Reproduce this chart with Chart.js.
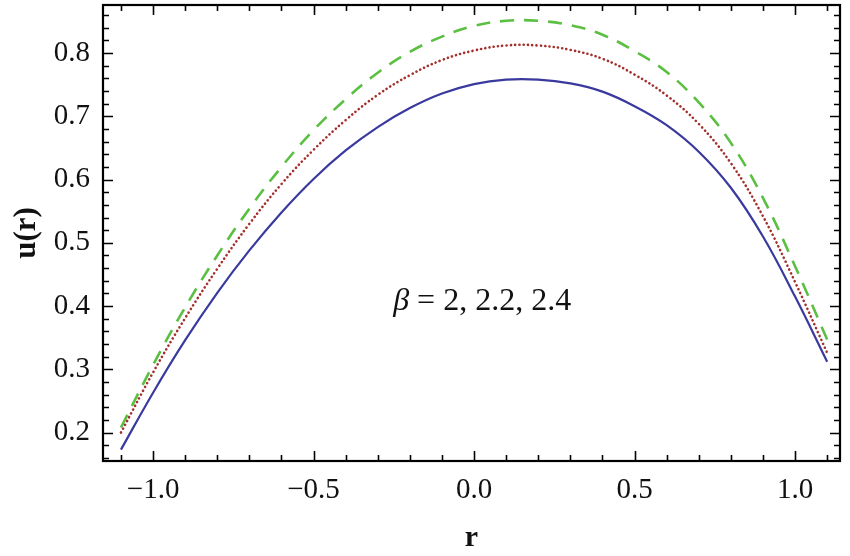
<!DOCTYPE html>
<html>
<head>
<meta charset="utf-8">
<script src="https://cdn.jsdelivr.net/npm/chart.js@4.4.0/dist/chart.umd.min.js"></script>
<style>
  html, body { margin: 0; padding: 0; background: #fff; }
</style>
</head>
<body>
<canvas id="lineChart" width="850" height="556"></canvas>
<script>
// r values along the pipe
const rValues = [-1.1, -1.0, -0.9, -0.8, -0.7, -0.6, -0.5, -0.4, -0.3, -0.2, -0.1,
  0.0, 0.1, 0.2, 0.3, 0.4, 0.5, 0.6, 0.7, 0.8, 0.9, 1.0, 1.1];

// u(r) for beta = 2, 2.2, 2.4
const uBeta20 = [0.173, 0.263, 0.346, 0.421, 0.488, 0.548, 0.601, 0.646, 0.683, 0.713, 0.736,
  0.751, 0.758, 0.758, 0.752, 0.739, 0.716, 0.686, 0.644, 0.587, 0.510, 0.415, 0.312];
const uBeta22 = [0.200, 0.295, 0.381, 0.459, 0.530, 0.593, 0.647, 0.694, 0.734, 0.765, 0.789,
  0.804, 0.812, 0.812, 0.805, 0.791, 0.766, 0.733, 0.688, 0.626, 0.542, 0.438, 0.326];
const uBeta24 = [0.208, 0.307, 0.398, 0.480, 0.554, 0.620, 0.678, 0.727, 0.769, 0.802, 0.826,
  0.843, 0.851, 0.851, 0.844, 0.829, 0.803, 0.770, 0.722, 0.658, 0.571, 0.463, 0.347];

const xTicks = [-1.0, -0.5, 0.0, 0.5, 1.0];
const xTickLabels = ["\u22121.0", "\u22120.5", "0.0", "0.5", "1.0"];
const yTicks = [0.2, 0.3, 0.4, 0.5, 0.6, 0.7, 0.8];
const yTickLabels = ["0.2", "0.3", "0.4", "0.5", "0.6", "0.7", "0.8"];
const noteText = "\u03B2";
const noteRest = " = 2, 2.2, 2.4";

const serif = "'Liberation Serif', 'Times New Roman', serif";

// minor tick positions (every 0.1 on x, 0.02 on y)
const xMinor = [];
for (let i = -11; i <= 11; i++) xMinor.push(i / 10);
const yMinor = [];
for (let i = 8; i <= 43; i++) yMinor.push(i / 50);

const toPoints = (ys) => rValues.map((r, i) => ({ x: r, y: ys[i] }));

// Mathematica style frame with inward ticks on all four sides
const frameTicks = {
  id: "frameTicks",
  afterDraw(chart) {
    const { ctx, chartArea: a, scales } = chart;
    const x = scales.x, y = scales.y;
    ctx.save();
    ctx.strokeStyle = "#000";
    ctx.lineWidth = 1.6;
    ctx.beginPath();
    xMinor.forEach((v) => {
      const px = Math.round(x.getPixelForValue(v)) + 0.5;
      const major = Math.abs(v * 2 - Math.round(v * 2)) < 1e-9;
      const len = major ? 10 : 6;
      ctx.moveTo(px, a.bottom);
      ctx.lineTo(px, a.bottom - len);
      ctx.moveTo(px, a.top);
      ctx.lineTo(px, a.top + len);
    });
    yMinor.forEach((v) => {
      const py = Math.round(y.getPixelForValue(v)) + 0.5;
      const major = Math.abs(v * 10 - Math.round(v * 10)) < 1e-9;
      const len = major ? 10 : 6;
      ctx.moveTo(a.left, py);
      ctx.lineTo(a.left + len, py);
      ctx.moveTo(a.right, py);
      ctx.lineTo(a.right - len, py);
    });
    ctx.stroke();
    ctx.lineWidth = 2.2;
    ctx.strokeRect(a.left, a.top, a.right - a.left, a.bottom - a.top);

    // beta label
    const nx = x.getPixelForValue(-0.252);
    const ny = y.getPixelForValue(0.407);
    ctx.fillStyle = "#111";
    ctx.textBaseline = "middle";
    ctx.textAlign = "left";
    ctx.font = "italic 32px " + serif;
    ctx.fillText(noteText, nx, ny);
    const w = ctx.measureText(noteText).width;
    ctx.font = "32px " + serif;
    ctx.fillText(noteRest, nx + w, ny);
    ctx.restore();
  },
};

const ctx = document.getElementById("lineChart").getContext("2d");

new Chart(ctx, {
  type: "line",
  data: {
    datasets: [
      {
        label: "\u03B2 = 2",
        data: toPoints(uBeta20),
        borderColor: "#3a3a9e",
        borderWidth: 2.2,
      },
      {
        label: "\u03B2 = 2.2",
        data: toPoints(uBeta22),
        borderColor: "#a3302c",
        borderWidth: 2.6,
        borderDash: [0.1, 4.2],
        borderCapStyle: "round",
      },
      {
        label: "\u03B2 = 2.4",
        data: toPoints(uBeta24),
        borderColor: "#5bbf42",
        borderWidth: 2.6,
        borderDash: [14, 10],
      },
    ],
  },
  options: {
    responsive: false,
    animation: false,
    elements: { point: { radius: 0 }, line: { tension: 0.4 } },
    layout: { padding: { top: 5, right: 10, left: 0, bottom: 0 } },
    plugins: {
      legend: { display: false },
      tooltip: { enabled: false },
    },
    scales: {
      x: {
        type: "linear",
        min: -1.156,
        max: 1.14,
        grid: { display: false, drawTicks: false },
        border: { display: false },
        afterBuildTicks: (scale) => {
          scale.ticks = xTicks.map((v) => ({ value: v }));
        },
        afterFit: (scale) => {
          scale.height = 95;
          scale.paddingLeft = 0;
          scale.paddingRight = 0;
        },
        ticks: {
          padding: 12,
          color: "#111",
          font: { family: serif, size: 29 },
          callback: (v) => xTickLabels[xTicks.indexOf(v)],
        },
        title: {
          display: true,
          text: "r",
          color: "#111",
          font: { family: serif, size: 30, weight: "bold" },
          padding: { top: 0, bottom: 0 },
        },
      },
      y: {
        type: "linear",
        min: 0.155,
        max: 0.876,
        grid: { display: false, drawTicks: false },
        border: { display: false },
        afterBuildTicks: (scale) => {
          scale.ticks = yTicks.map((v) => ({ value: v }));
        },
        afterFit: (scale) => {
          scale.width = 103;
          scale.paddingTop = 0;
          scale.paddingBottom = 0;
        },
        ticks: {
          padding: 13,
          color: "#111",
          font: { family: serif, size: 29 },
          callback: (v) => yTickLabels[yTicks.indexOf(v)],
        },
        title: {
          display: true,
          text: "u(r)",
          color: "#111",
          font: { family: serif, size: 31, weight: "bold" },
          padding: { top: 8, bottom: 0 },
        },
      },
    },
  },
  plugins: [frameTicks],
});
</script>
</body>
</html>
